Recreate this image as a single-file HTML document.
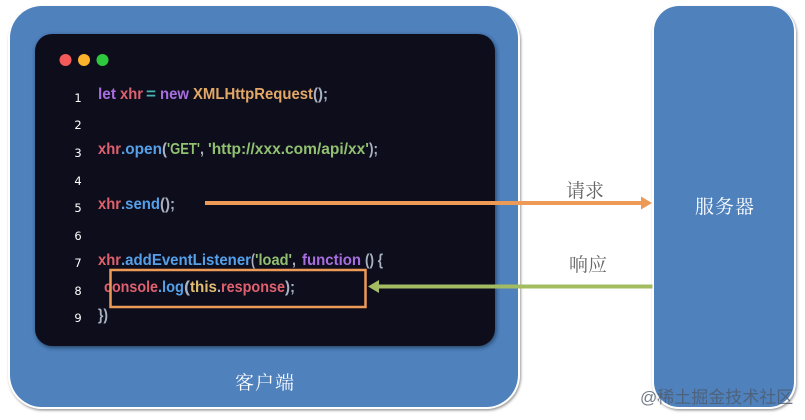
<!DOCTYPE html>
<html><head><meta charset="utf-8"><style>
html,body{margin:0;padding:0;background:#fff}
svg{display:block}
.c text{font-family:"Liberation Sans",sans-serif;font-weight:700;font-size:15.5px}
.n text{font-family:"DejaVu Sans","Liberation Sans",sans-serif;font-size:11.5px;fill:#fff;text-anchor:middle}
.z{font-family:"Noto Serif CJK SC","Noto Serif CJK JP","Liberation Serif",serif;font-size:19px}
</style></head><body>
<svg width="805" height="420" viewBox="0 0 805 420" xmlns="http://www.w3.org/2000/svg">
<defs>
<filter id="s" x="-5%" y="-5%" width="110%" height="110%"><feDropShadow dx="1" dy="1.5" stdDeviation="1.2" flood-color="#777" flood-opacity=".75"/></filter>
<filter id="d" x="-5%" y="-5%" width="110%" height="110%"><feDropShadow dx="1" dy="1.5" stdDeviation="2" flood-color="#123" flood-opacity=".7"/></filter>
</defs>
<rect width="805" height="420" fill="#fff"/>
<rect x="8" y="6" width="512" height="403" rx="34" fill="#fff" filter="url(#s)"/>
<rect x="10" y="6" width="508" height="401" rx="32" fill="#4f81bd"/>
<rect x="652" y="6" width="144" height="403" rx="27" fill="#fff" filter="url(#s)"/>
<rect x="654" y="6" width="140" height="401" rx="25" fill="#4f81bd"/>
<rect x="35" y="34" width="460" height="312" rx="17" fill="#0a0f1f" filter="url(#d)"/>
<circle cx="65.5" cy="60" r="6" fill="#f55a5a"/><circle cx="84" cy="60" r="6" fill="#fbb32c"/><circle cx="102.5" cy="60" r="6" fill="#2ec83f"/>
<g class="n">
<text x="78" y="102">1</text><text x="78" y="129">2</text><text x="78" y="157">3</text><text x="78" y="185">4</text><text x="78" y="212">5</text><text x="78" y="240">6</text><text x="78" y="267">7</text><text x="78" y="295">8</text><text x="78" y="322">9</text>
</g>
<g class="c">
<text x="98" y="99" fill="#a86ee0" textLength="18" lengthAdjust="spacingAndGlyphs">let</text>
<text x="120" y="99" fill="#e0616e" textLength="23" lengthAdjust="spacingAndGlyphs">xhr</text>
<text x="146" y="99" fill="#47b5b5" textLength="10" lengthAdjust="spacingAndGlyphs">=</text>
<text x="160" y="99" fill="#a86ee0" textLength="29" lengthAdjust="spacingAndGlyphs">new</text>
<text x="193" y="99" fill="#e3a865" textLength="120" lengthAdjust="spacingAndGlyphs">XMLHttpRequest</text>
<text x="313" y="99" fill="#a9b2c0" textLength="15" lengthAdjust="spacingAndGlyphs">();</text>

<text x="98" y="154" fill="#e0616e" textLength="23" lengthAdjust="spacingAndGlyphs">xhr</text>
<text x="121" y="154" fill="#55a0e8" textLength="41" lengthAdjust="spacingAndGlyphs">.open</text>
<text x="162" y="154" fill="#a9b2c0" textLength="5" lengthAdjust="spacingAndGlyphs">(</text>
<text x="167" y="154" fill="#90c070" textLength="33" lengthAdjust="spacingAndGlyphs">'GET'</text>
<text x="200" y="154" fill="#a9b2c0" textLength="4" lengthAdjust="spacingAndGlyphs">,</text>
<text x="208" y="154" fill="#90c070" textLength="161" lengthAdjust="spacingAndGlyphs">'http://xxx.com/api/xx'</text>
<text x="369" y="154" fill="#a9b2c0" textLength="9" lengthAdjust="spacingAndGlyphs">);</text>

<text x="98" y="209" fill="#e0616e" textLength="23" lengthAdjust="spacingAndGlyphs">xhr</text>
<text x="121" y="209" fill="#55a0e8" textLength="39" lengthAdjust="spacingAndGlyphs">.send</text>
<text x="160" y="209" fill="#a9b2c0" textLength="15" lengthAdjust="spacingAndGlyphs">();</text>

<text x="98" y="265" fill="#e0616e" textLength="23" lengthAdjust="spacingAndGlyphs">xhr</text>
<text x="121" y="265" fill="#55a0e8" textLength="130" lengthAdjust="spacingAndGlyphs">.addEventListener</text>
<text x="251" y="265" fill="#a9b2c0" textLength="4" lengthAdjust="spacingAndGlyphs">(</text>
<text x="255" y="265" fill="#90c070" textLength="37" lengthAdjust="spacingAndGlyphs">'load'</text>
<text x="292" y="265" fill="#a9b2c0" textLength="4" lengthAdjust="spacingAndGlyphs">,</text>
<text x="302" y="265" fill="#a86ee0" textLength="59" lengthAdjust="spacingAndGlyphs">function</text>
<text x="365" y="265" fill="#a9b2c0" textLength="18" lengthAdjust="spacingAndGlyphs">() {</text>

<text x="104" y="292" fill="#e0616e" textLength="54" lengthAdjust="spacingAndGlyphs">console</text>
<text x="158" y="292" fill="#55a0e8" textLength="26" lengthAdjust="spacingAndGlyphs">.log</text>
<text x="184" y="292" fill="#a9b2c0" textLength="6" lengthAdjust="spacingAndGlyphs">(</text>
<text x="190" y="292" fill="#e0bd70" textLength="27" lengthAdjust="spacingAndGlyphs">this</text>
<text x="217" y="292" fill="#a9b2c0" textLength="4" lengthAdjust="spacingAndGlyphs">.</text>
<text x="221" y="292" fill="#e0616e" textLength="64" lengthAdjust="spacingAndGlyphs">response</text>
<text x="285" y="292" fill="#a9b2c0" textLength="10" lengthAdjust="spacingAndGlyphs">);</text>

<text x="98" y="320" fill="#a9b2c0" textLength="10" lengthAdjust="spacingAndGlyphs">})</text>
</g>
<rect x="110.5" y="270" width="255" height="37" fill="none" stroke="#ed9a57" stroke-width="2.5"/>
<rect x="205" y="201" width="437" height="4" fill="#ed9a57"/>
<path d="M641 196.5 L652 203 L641 209.5Z" fill="#ed9a57"/>
<rect x="378" y="284.500" width="274.500" height="4" fill="#a3bc62"/>
<path d="M379 280 L368 286.500 L379 293Z" fill="#a3bc62"/>
<text class="z" x="566" y="197" fill="#666">请求</text>
<text class="z" x="569" y="271" fill="#666">响应</text>
<text class="z" x="695" y="213" fill="#fff" style="letter-spacing:1px">服务器</text>
<text class="z" x="235" y="389" fill="#fff" style="letter-spacing:1px">客户端</text>
<text x="640" y="403" fill="#4f5a6b" fill-opacity=".8" style="font-family:'Liberation Sans','Noto Sans CJK SC',sans-serif;font-size:17px">@稀土掘金技术社区</text>
</svg>
</body></html>
